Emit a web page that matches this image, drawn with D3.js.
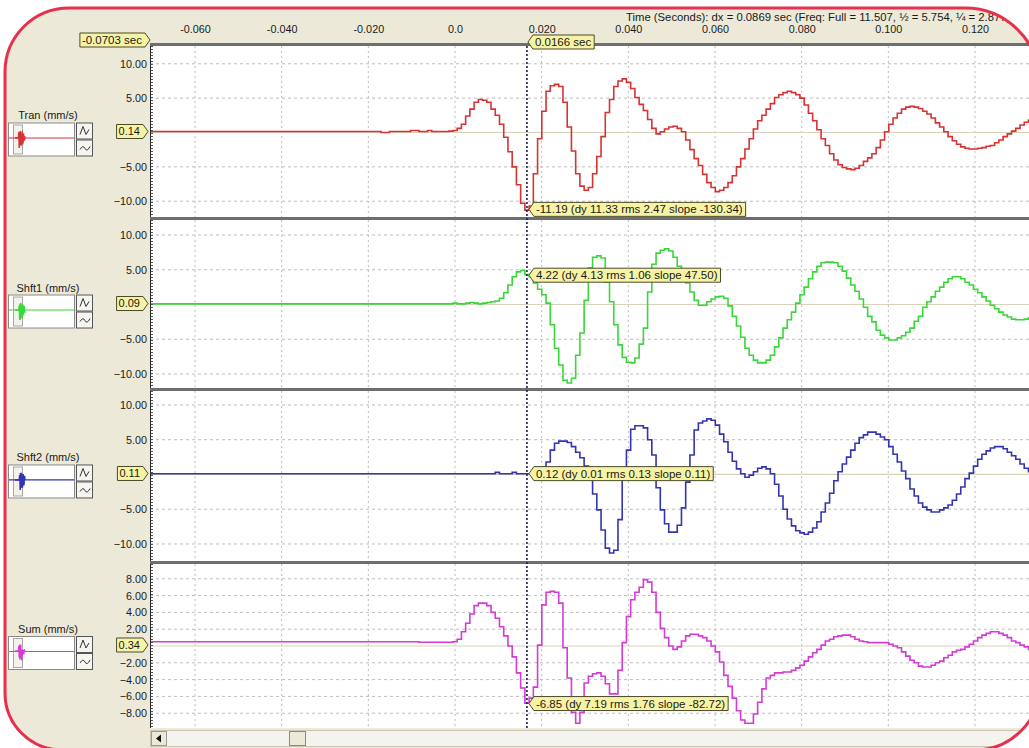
<!DOCTYPE html>
<html>
<head>
<meta charset="utf-8">
<script src="https://cdn.jsdelivr.net/npm/d3@7"></script>
<style>
body { margin: 0; background: #fff; }
svg text { font-family: "Liberation Sans", Arial, sans-serif; fill: #1a1a1a; }
</style>
</head>
<body>
<svg id="chart" width="1029" height="748"></svg>
<script>
// Record settings
var startTime = -0.0703;
var sampleRate = 1024;
var cursorTime = 0.0166;
var headerText = "Time (Seconds): dx = 0.0869 sec (Freq:  Full = 11.507, \u00bd = 5.754, \u00bc = 2.877)";

// Time axis
var tickTimes = [-0.06, -0.04, -0.02, 0, 0.02, 0.04, 0.06, 0.08, 0.10, 0.12];
var tickLabels = ["-0.060", "-0.040", "-0.020", "0.0", "0.020", "0.040", "0.060", "0.080", "0.100", "0.120"];

// Channels
var channelNames = ["Tran (mm/s)", "Shft1 (mm/s)", "Shft2 (mm/s)", "Sum (mm/s)"];
var channelColors = ["#d83232", "#38d838", "#3434b0", "#d53ad5"];
var baseLabels = ["0.14", "0.09", "0.11", "0.34"];
var cursorValues = [-11.19, 4.22, 0.12, -6.85];
var cursorNotes = [
    "-11.19 (dy 11.33 rms 2.47 slope -130.34)",
    "4.22 (dy 4.13 rms 1.06 slope 47.50)",
    "0.12 (dy 0.01 rms 0.13 slope 0.11)",
    "-6.85 (dy 7.19 rms 1.76 slope -82.72)"
];
var yTicksWave = [10, 5, -5, -10];
var yTicksSum = [8, 6, 4, 2, -2, -4, -6, -8];

// Samples, mm/s, one per 1/1024 s from startTime
var tran = [
    0.14,0.14,0.14,0.14,0.14,0.14,0.14,0.14,0.14,0.14,
    0.14,0.14,0.14,0.14,0.14,0.14,0.14,0.14,0.14,0.14,
    0.14,0.14,0.14,0.14,0.14,0.14,0.14,0.14,0.14,0.14,
    0.14,0.14,0.14,0.14,0.14,0.14,0.14,0.14,0.14,0.14,
    0.14,0.14,0.14,0.14,0.14,0.14,0.14,0.14,0.14,0.14,
    0.14,0.14,0.14,0.14,0.14,0.0,0.0,0.14,0.14,0.14,
    0.14,0.14,0.3,0.3,0.14,0.14,0.3,0.14,0.14,0.14,
    0.14,0.2,0.3,0.6,1.2,2.4,3.4,4.4,4.8,4.7,
    4.4,3.4,2.5,1.2,-0.7,-2.8,-5.0,-7.6,-10.3,-11.3,
    -10.7,-6.0,-0.9,3.1,6.0,6.8,7.0,6.7,4.4,0.8,
    -2.7,-6.0,-7.8,-8.4,-8.0,-6.0,-3.5,-0.6,2.9,4.8,
    6.7,7.5,7.8,7.3,6.4,5.1,4.1,3.2,1.9,0.6,
    -0.2,0.1,0.5,0.8,0.9,0.6,0.1,-1.1,-2.5,-3.8,
    -4.8,-6.1,-7.3,-8.0,-8.6,-8.4,-8.0,-7.3,-6.3,-5.0,
    -3.8,-2.4,-0.9,0.5,1.7,2.5,3.4,4.2,5.1,5.5,
    5.8,6.0,5.8,5.5,5.0,4.0,2.8,1.7,0.4,-0.9,
    -1.9,-3.1,-4.0,-4.7,-5.1,-5.3,-5.4,-5.2,-4.8,-4.2,
    -3.7,-3.1,-2.2,-1.1,0.1,1.2,2.1,2.8,3.4,3.7,
    3.8,3.7,3.5,3.1,2.7,2.1,1.4,0.8,0.1,-0.6,
    -1.2,-1.7,-2.1,-2.3,-2.4,-2.4,-2.3,-2.2,-2.0,-1.9,
    -1.5,-1.1,-0.6,-0.2,0.2,0.6,1.1,1.5,1.8,2.1
];
var shft1 = [
    0.09,0.09,0.09,0.09,0.09,0.09,0.09,0.09,0.09,0.09,
    0.09,0.09,0.09,0.09,0.09,0.09,0.09,0.09,0.09,0.09,
    0.09,0.09,0.09,0.09,0.09,0.09,0.09,0.09,0.09,0.09,
    0.09,0.09,0.09,0.09,0.09,0.09,0.09,0.09,0.09,0.09,
    0.09,0.09,0.09,0.09,0.09,0.09,0.09,0.09,0.09,0.09,
    0.09,0.09,0.09,0.09,0.09,0.09,0.09,0.09,0.09,0.09,
    0.09,0.09,0.09,0.09,0.09,0.09,0.09,0.09,0.09,0.09,
    0.09,0.09,0.2,0.09,0.09,0.2,0.3,0.2,0.09,0.2,
    0.3,0.4,0.5,0.9,1.7,2.8,4.0,4.7,4.9,4.3,
    4.0,3.1,2.2,1.4,0.2,-2.9,-6.3,-8.7,-10.9,-11.3,
    -10.6,-7.3,-4.1,0.6,5.3,6.8,7.0,6.7,3.2,0.4,
    -2.9,-5.8,-7.6,-8.3,-8.4,-7.7,-5.7,-3.4,1.8,5.8,
    7.4,7.8,8.0,7.7,6.8,5.5,4.2,3.1,1.8,0.6,
    -0.1,-0.1,0.4,0.8,1.1,1.2,0.9,-0.2,-1.7,-3.1,
    -4.7,-6.3,-7.3,-8.0,-8.4,-8.4,-8.0,-7.3,-6.1,-4.8,
    -3.4,-2.2,-1.1,0.2,1.4,2.5,3.7,4.7,5.5,6.0,
    6.1,6.1,6.0,5.5,4.8,3.8,2.8,1.9,0.8,-0.4,
    -1.7,-2.5,-3.7,-4.4,-4.8,-5.1,-5.1,-4.8,-4.5,-4.0,
    -3.4,-2.4,-1.7,-0.4,0.4,1.1,1.9,2.5,3.2,3.7,
    4.0,4.0,3.7,3.2,2.8,2.2,1.7,1.1,0.5,-0.1,
    -0.6,-1.1,-1.5,-1.8,-2.1,-2.2,-2.2,-2.1,-1.9,-1.7
];
var shft2 = [
    0.11,0.11,0.11,0.11,0.11,0.11,0.11,0.11,0.11,0.11,
    0.11,0.11,0.11,0.11,0.11,0.11,0.11,0.11,0.11,0.11,
    0.11,0.11,0.11,0.11,0.11,0.11,0.11,0.11,0.11,0.11,
    0.11,0.11,0.11,0.11,0.11,0.11,0.11,0.11,0.11,0.11,
    0.11,0.11,0.11,0.11,0.11,0.11,0.11,0.11,0.11,0.11,
    0.11,0.11,0.11,0.11,0.11,0.11,0.11,0.11,0.11,0.11,
    0.11,0.11,0.11,0.11,0.11,0.11,0.11,0.11,0.11,0.11,
    0.11,0.11,0.11,0.11,0.11,0.11,0.11,0.11,0.11,0.11,
    0.11,0.11,0.3,0.11,0.11,0.11,0.3,0.11,0.11,0.11,
    0.11,0.11,0.11,0.2,1.8,3.5,4.5,4.8,4.8,4.6,
    4.0,3.2,2.4,1.2,-0.5,-2.8,-5.1,-8.0,-10.6,-11.3,
    -10.9,-6.5,-0.5,3.5,6.5,7.0,7.0,6.7,5.0,2.8,
    -1.9,-5.1,-7.1,-8.3,-8.3,-7.3,-4.8,-1.1,2.8,6.4,
    7.4,7.7,8.0,7.8,7.1,5.8,4.7,3.2,1.9,0.8,
    0.1,-0.4,-0.1,0.4,0.9,1.1,0.8,0.1,-1.4,-3.1,
    -5.0,-6.4,-7.4,-8.1,-8.4,-8.6,-8.3,-7.7,-6.8,-5.4,
    -4.1,-2.7,-0.9,0.4,1.5,2.5,3.5,4.5,5.3,5.7,
    6.1,6.1,5.8,5.4,5.0,4.0,2.9,1.8,0.5,-0.6,
    -2.1,-3.1,-4.1,-4.7,-5.1,-5.4,-5.4,-5.1,-4.8,-4.4,
    -3.7,-2.8,-1.8,-0.6,0.2,1.2,2.2,2.9,3.4,3.8,
    4.0,4.0,3.7,3.2,2.7,2.2,1.5,0.9,0.4,-0.1
];
var sum = [
    0.5,0.5,0.5,0.5,0.5,0.5,0.5,0.5,0.5,0.5,
    0.5,0.5,0.5,0.5,0.5,0.5,0.5,0.5,0.5,0.5,
    0.5,0.5,0.5,0.5,0.5,0.5,0.5,0.5,0.5,0.5,
    0.5,0.5,0.5,0.5,0.5,0.5,0.5,0.5,0.5,0.5,
    0.5,0.5,0.5,0.5,0.5,0.5,0.5,0.5,0.5,0.5,
    0.5,0.5,0.5,0.5,0.5,0.5,0.5,0.5,0.5,0.5,
    0.5,0.5,0.5,0.5,0.45,0.45,0.45,0.45,0.45,0.45,
    0.45,0.45,0.5,0.8,1.7,2.7,3.8,4.8,5.1,5.1,
    4.8,4.0,3.3,2.3,1.2,0.0,-1.3,-3.2,-5.0,-6.8,
    -6.2,-4.9,0.1,4.9,6.4,6.5,6.4,5.1,-0.2,-3.8,
    -7.9,-9.2,-7.9,-4.4,-3.6,-3.3,-3.2,-3.6,-4.5,-5.7,
    -5.7,-2.9,0.4,3.5,5.5,6.4,7.0,7.9,7.6,6.4,
    4.0,2.1,1.0,0.0,-0.4,-0.1,0.6,1.2,1.4,1.4,
    1.2,1.0,0.6,0.0,-0.7,-1.9,-3.5,-4.8,-6.2,-7.7,
    -8.8,-9.2,-9.2,-8.1,-6.7,-5.1,-3.8,-3.5,-3.2,-3.2,
    -3.1,-3.1,-2.9,-2.6,-2.3,-1.8,-1.3,-0.8,-0.4,0.1,
    0.6,0.8,1.1,1.2,1.3,1.3,1.1,0.8,0.6,0.5,
    0.4,0.4,0.4,0.4,0.4,0.2,0.0,-0.2,-0.7,-1.2,
    -1.7,-2.0,-2.4,-2.5,-2.5,-2.3,-2.0,-1.8,-1.4,-1.1,
    -0.7,-0.5,-0.4,-0.1,0.2,0.6,1.0,1.3,1.5,1.7,
    1.7,1.5,1.3,1.0,0.6,0.4,0.1,-0.1,-0.4,-0.6
];
var channelData = [tran, shft1, shft2, sum];

// Layout
var plotLeft = 150;
var plotRight = 1045;
var panels = [
    { top: 46, bottom: 217, yMin: -12.30, yMax: 12.59, ticks: yTicksWave },
    { top: 220, bottom: 388, yMin: -12.01, yMax: 12.16, ticks: yTicksWave },
    { top: 391, bottom: 561, yMin: -12.45, yMax: 12.01, ticks: yTicksWave },
    { top: 564, bottom: 728, yMin: -9.76, yMax: 9.76, ticks: yTicksSum }
];
var frame = "M5,72 A64,64 0 0 1 69,8 H965 A75,75 0 0 1 1040,83 V685 A65,65 0 0 1 975,750 H62 A57,57 0 0 1 5,693 Z";

var svg = d3.select("#chart");
var defs = svg.append("defs");
defs.append("clipPath").attr("id", "frameClip").append("path").attr("d", frame);

svg.append("path").attr("d", frame).attr("fill", "#ece9d8");
var root = svg.append("g").attr("clip-path", "url(#frameClip)");

var x = d3.scaleLinear().domain([-0.06, 0.12]).range([195, 975]);
var cursorX = x(cursorTime);

// Pointed yellow label
function tag(parent, tipX, yc, text, side, size) {
    var g = parent.append("g");
    var t = g.append("text")
        .attr("y", yc)
        .attr("dy", "0.35em")
        .style("font-size", size + "px")
        .text(text);
    var w = t.node().getComputedTextLength() + 5;
    var h = 14;
    var left, right, pts;
    if (side == "left") {
        left = tipX + 5;
        right = left + w;
        pts = [[tipX, yc], [left, yc - h / 2], [right, yc - h / 2], [right, yc + h / 2], [left, yc + h / 2]];
    } else {
        right = tipX - 5;
        left = right - w;
        pts = [[left, yc - h / 2], [right, yc - h / 2], [tipX, yc], [right, yc + h / 2], [left, yc + h / 2]];
    }
    t.attr("x", left + 2);
    g.insert("polygon", "text")
        .attr("points", pts.map(function(p) { return p.join(","); }).join(" "))
        .attr("fill", "#f7f3a4")
        .attr("stroke", "#4a4a2a")
        .attr("stroke-width", 1);
    return g;
}

// Header and time axis
root.append("text")
    .attr("x", 626).attr("y", 21)
    .style("font-size", "11.3px")
    .text(headerText);

var xAxis = root.append("g")
    .attr("transform", "translate(0,36)")
    .call(d3.axisTop(x)
        .tickValues(tickTimes)
        .tickFormat(function(d, i) { return tickLabels[i]; })
        .tickSize(0)
        .tickPadding(3));
xAxis.select(".domain").remove();
xAxis.selectAll("text").style("font-size", "10.8px").attr("fill", "#1a1a1a")
    .style("font-family", "Liberation Sans, Arial, sans-serif");

// Panels
panels.forEach(function(p, k) {
    var y = d3.scaleLinear().domain([p.yMin, p.yMax]).range([p.bottom, p.top]);
    var zeroY = y(0);
    var pg = root.append("g");

    pg.append("rect")
        .attr("x", plotLeft).attr("y", p.top)
        .attr("width", plotRight - plotLeft).attr("height", p.bottom - p.top)
        .attr("fill", "#ffffff");
    pg.append("rect")
        .attr("x", plotLeft).attr("y", p.top - 3)
        .attr("width", plotRight - plotLeft).attr("height", 3)
        .attr("fill", "#6e6e6e");

    // grid
    pg.selectAll("line.vgrid")
        .data(tickTimes)
        .enter().append("line")
        .attr("class", "vgrid")
        .attr("x1", function(d) { return x(d); })
        .attr("x2", function(d) { return x(d); })
        .attr("y1", p.top).attr("y2", p.bottom)
        .attr("stroke", "#bdbdbd")
        .attr("stroke-dasharray", "2,3");
    pg.selectAll("line.hgrid")
        .data(p.ticks)
        .enter().append("line")
        .attr("class", "hgrid")
        .attr("x1", plotLeft).attr("x2", plotRight)
        .attr("y1", function(d) { return y(d); })
        .attr("y2", function(d) { return y(d); })
        .attr("stroke", "#bdbdbd")
        .attr("stroke-dasharray", "3,3");
    pg.append("line")
        .attr("x1", plotLeft).attr("x2", plotRight)
        .attr("y1", zeroY).attr("y2", zeroY)
        .attr("stroke", "#d8d1bb")
        .attr("stroke-width", 1.2);

    // trace
    defs.append("clipPath").attr("id", "panelClip" + k)
        .append("rect")
        .attr("x", plotLeft).attr("y", p.top)
        .attr("width", plotRight - plotLeft).attr("height", p.bottom - p.top);
    var line = d3.line()
        .x(function(d, i) { return x(startTime + i / sampleRate); })
        .y(function(d) { return y(d); })
        .curve(d3.curveStep);
    pg.append("path")
        .datum(channelData[k])
        .attr("clip-path", "url(#panelClip" + k + ")")
        .attr("d", line)
        .attr("fill", "none")
        .attr("stroke", channelColors[k])
        .attr("stroke-width", 1.6);

    // left border
    pg.append("line")
        .attr("x1", plotLeft + 0.5).attr("x2", plotLeft + 0.5)
        .attr("y1", p.top).attr("y2", p.bottom)
        .attr("stroke", "#2a2a2a");
    pg.append("line")
        .attr("x1", plotLeft + 2).attr("x2", plotLeft + 2)
        .attr("y1", p.top).attr("y2", p.bottom)
        .attr("stroke", "#555")
        .attr("stroke-width", 2)
        .attr("stroke-dasharray", "1,2");

    // y axis labels
    var yAxis = pg.append("g")
        .attr("transform", "translate(" + plotLeft + ",0)")
        .call(d3.axisLeft(y)
            .tickValues(p.ticks)
            .tickFormat(d3.format(".2f"))
            .tickSize(0)
            .tickPadding(3));
    yAxis.select(".domain").remove();
    yAxis.selectAll("text").style("font-size", "10.8px").attr("fill", "#1a1a1a")
        .style("font-family", "Liberation Sans, Arial, sans-serif");

    // channel widget
    var boxTop = zeroY - 10;
    pg.append("text")
        .attr("x", 48).attr("y", boxTop - 3)
        .attr("text-anchor", "middle")
        .style("font-size", "11px")
        .text(channelNames[k]);
    pg.append("rect")
        .attr("x", 8.5).attr("y", boxTop + 0.5)
        .attr("width", 66).attr("height", 33)
        .attr("fill", "#ffffff").attr("stroke", "#8a8a8a");
    pg.append("rect")
        .attr("x", 13.5).attr("y", boxTop + 2.5)
        .attr("width", 9).attr("height", 29)
        .attr("fill", "#f4f2ea").attr("stroke", "#a8a8a8");
    var miniX = d3.scaleLinear().domain([0, channelData[k].length - 1]).range([15, 25]);
    var miniY = d3.scaleLinear().domain([-12, 12]).range([boxTop + 26, boxTop + 5]);
    pg.append("path")
        .datum(channelData[k])
        .attr("d", d3.line()
            .x(function(d, i) { return miniX(i); })
            .y(function(d) { return miniY(d); }))
        .attr("fill", "none")
        .attr("stroke", channelColors[k])
        .attr("stroke-width", 1.5);
    pg.append("line")
        .attr("x1", 9).attr("x2", 74)
        .attr("y1", miniY(0)).attr("y2", miniY(0))
        .attr("stroke", channelColors[k])
        .attr("stroke-width", 1.2);
    [0, 1].forEach(function(b) {
        var by = boxTop + b * 17;
        pg.append("rect")
            .attr("x", 76.5).attr("y", by + 0.5)
            .attr("width", 16).attr("height", 16)
            .attr("fill", "#f6f5f0").attr("stroke", "#555");
        pg.append("path")
            .attr("d", b == 0
                ? "M80," + (by + 12) + " L83," + (by + 4) + " L86," + (by + 12) + " L89," + (by + 7)
                : "M80," + (by + 10) + " Q83," + (by + 5) + " 85," + (by + 9) + " T90," + (by + 7))
            .attr("fill", "none")
            .attr("stroke", "#333")
            .attr("stroke-width", 1);
    });

    tag(pg, plotLeft - 2, zeroY - 1, baseLabels[k], "right", 11);
});

// Cursor
root.append("line")
    .attr("x1", cursorX).attr("x2", cursorX)
    .attr("y1", panels[0].top).attr("y2", panels[3].bottom)
    .attr("stroke", "#1c1c4c")
    .attr("stroke-width", 1.6)
    .attr("stroke-dasharray", "2,2");

panels.forEach(function(p, k) {
    var y = d3.scaleLinear().domain([p.yMin, p.yMax]).range([p.bottom, p.top]);
    tag(root, cursorX + 2, y(cursorValues[k]), cursorNotes[k], "left", 11.5);
});

tag(root, plotLeft, 40, startTime.toFixed(4) + " sec", "right", 11.5);
tag(root, cursorX + 1, 42, cursorTime.toFixed(4) + " sec", "left", 11.5);

// Scroll bar
root.append("rect")
    .attr("x", plotLeft + 0.5).attr("y", 730.5)
    .attr("width", 900).attr("height", 16)
    .attr("fill", "#f4f3ee").attr("stroke", "#c9c6b6");
root.append("rect")
    .attr("x", plotLeft + 1.5).attr("y", 731.5)
    .attr("width", 15).attr("height", 14)
    .attr("fill", "#ece9d8").attr("stroke", "#9a9a9a");
root.append("path")
    .attr("d", "M156,738.5 L161,734.5 L161,742.5 Z")
    .attr("fill", "#111");
root.append("rect")
    .attr("x", 289.5).attr("y", 731.5)
    .attr("width", 16).attr("height", 14)
    .attr("fill", "#ece9d8").attr("stroke", "#8a8a8a");

svg.append("path")
    .attr("d", frame)
    .attr("fill", "none")
    .attr("stroke", "#e6304c")
    .attr("stroke-width", 3);
</script>
</body>
</html>
